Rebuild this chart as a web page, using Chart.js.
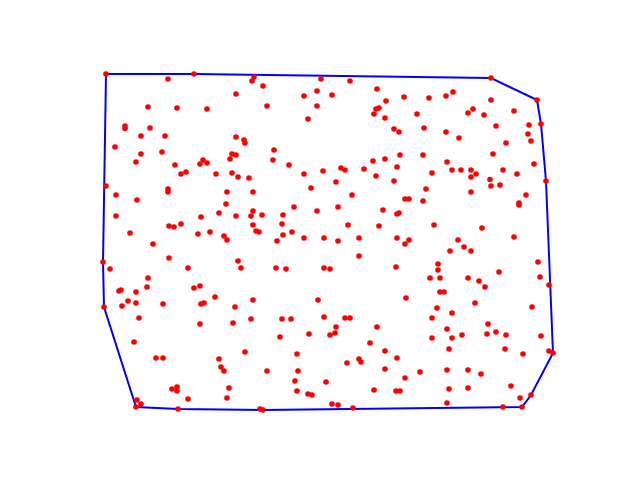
<!DOCTYPE html>
<html>
<head>
<meta charset="utf-8">
<script src="https://cdn.jsdelivr.net/npm/chart.js@4/dist/chart.umd.min.js"></script>
<style>
html,body{margin:0;padding:0;background:#fff;}
canvas{display:block;}
</style>
</head>
<body>
<canvas id="c" width="640" height="480"></canvas>
<script>
// Point coordinates (x to the right, y downward)
const pointX = [
106,194,168,252,254,236,148,177,207,125,125,150,141,165,236,244,245,115,141,162,232,236,136,230,175,203,200,207,181,186,216,232,238,249,
321,350,263,304,317,332,377,386,404,267,317,376,379,374,385,308,394,399,274,273,289,304,323,341,345,364,373,385,400,397,376,394,336,
491,537,541,546,429,446,453,491,417,468,473,484,514,424,496,529,528,531,446,459,506,423,493,447,534,432,452,461,471,476,471,503,517,490,
106,116,137,168,168,227,253,226,219,236,251,253,253,116,201,181,169,174,130,210,198,224,227,153,103,110,169,188,238,241,148,147,119,121,136,194,200,215,128,253,
311,352,405,409,262,256,259,294,283,282,283,317,338,383,397,399,348,379,292,277,304,324,338,359,397,405,409,359,276,286,324,330,396,318,406,
426,471,491,500,423,526,519,519,434,482,458,464,450,471,514,538,540,549,438,438,499,430,440,468,479,485,440,444,
104,122,136,139,163,201,204,235,251,200,233,134,156,163,245,219,221,224,229,172,177,177,227,188,137,141,136,178,
282,291,324,345,350,336,335,330,309,377,280,370,385,397,297,359,361,347,385,267,298,405,295,326,297,308,312,374,396,400,332,338,353,260,263,
437,452,432,475,532,447,432,452,462,488,487,496,506,541,505,449,523,549,553,420,447,468,481,449,468,511,520,531,447,503,522
];
const pointY = [
74,74,79,81,77,94,107,108,109,126,128.5,128,136,136,137,140,143,147,154,152,154,155,162,159,165,160,164,163,174,172,174,173,177,178,
79,81,86,96,91,95,89,101,97,106,106,109,108,114,118,119,129,132,150,160,165,174,171,168,170,169,161,159,155,167,176,181,182,
78,100,124,181,98,96,92,100,114,113,109,115,111,128,126,125,134,141,132,138,143,155,154,162,164,173,170,170,170,174,177,170,174,179.5,
186,195,200,189,192,192,192,204,213,216,216,211,225,216,217,224,226,227,233,232,234,236,240,244,262,269,258,268,261,268,278,287,291,290,292,288,286,297,301,300,
188,195,199,199,215,231,232,207,215,224,235,211,207,210,214,213,225,226,232,241,238,238,241,238,238,244,240,256,268,269,268,269,267,300,298,
189,192,186,185,201,195,203,205,225,228,240,247,251,251,237,262,277,285,264,270,272,278,278,278,281,287,292,292,
307,306,303,318,304,304,303,307,319,324,323,342,358,358,352,359,367,371,388,389,387,391,398,399,400,404,407,409,
319,319,317,318,318,327,333,335,334,327,337,343,351,358,354,359,362,363,369,371,371,378,381,382,391,394,395,390,391,391,404,405,408,409,410,
308,313,318,303,307,329,338,338,335,324,334,332,335,336,349,349,354,351,353,372,370,370,374,389,388,386,398,395,403,407,407
];

const points = pointX.map((x, i) => ({x: x, y: pointY[i]}));

// Convex hull (monotone chain) of the points, closed
function convexHull(pts) {
  const p = pts.slice().sort((a, b) => a.x - b.x || a.y - b.y);
  const cross = (o, a, b) => (a.x - o.x) * (b.y - o.y) - (a.y - o.y) * (b.x - o.x);
  const lower = [];
  for (const q of p) {
    while (lower.length >= 2 && cross(lower[lower.length - 2], lower[lower.length - 1], q) <= 0) lower.pop();
    lower.push(q);
  }
  const upper = [];
  for (let i = p.length - 1; i >= 0; i--) {
    const q = p[i];
    while (upper.length >= 2 && cross(upper[upper.length - 2], upper[upper.length - 1], q) <= 0) upper.pop();
    upper.push(q);
  }
  upper.pop(); lower.pop();
  const h = lower.concat(upper);
  h.push(h[0]);
  return h;
}
const hull = convexHull(points);

new Chart(document.getElementById('c'), {
  type: 'scatter',
  data: {
    datasets: [
      {
        data: points,
        backgroundColor: '#ff0000',
        borderColor: '#ff0000',
        borderWidth: 0,
        pointRadius: 2.8,
        order: 0
      },
      {
        data: hull,
        showLine: true,
        borderColor: '#0000ff',
        borderWidth: 2,
        pointRadius: 0,
        tension: 0,
        fill: false,
        order: 1
      }
    ]
  },
  options: {
    responsive: false,
    animation: false,
    devicePixelRatio: 1,
    layout: {padding: {left: 80, right: 64, top: 57.6, bottom: 52.8}},
    plugins: {legend: {display: false}, tooltip: {enabled: false}},
    scales: {
      x: {type: 'linear', display: false, min: 80, max: 576},
      y: {type: 'linear', display: false, min: 57.6, max: 427.2, reverse: true}
    }
  }
});
</script>
</body>
</html>
